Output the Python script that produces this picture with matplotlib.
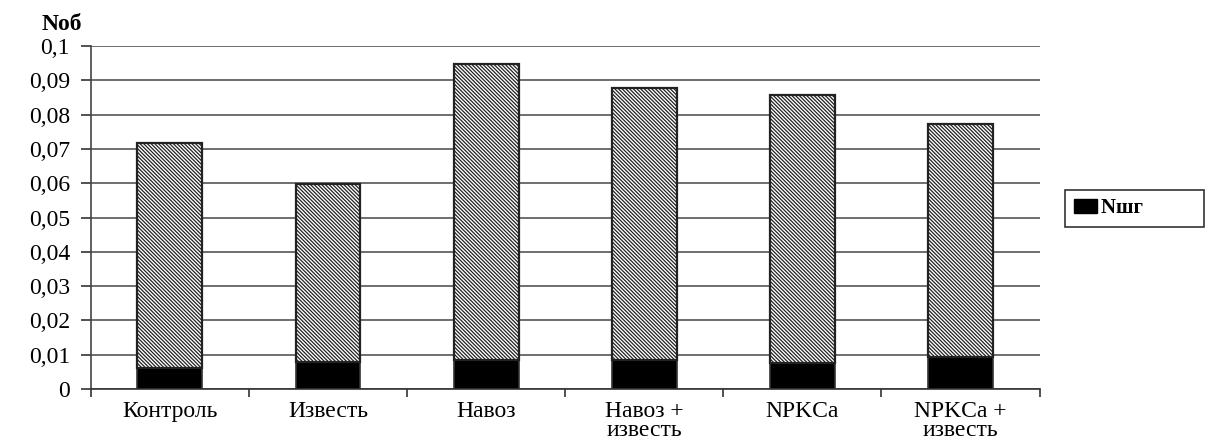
import numpy as np
import matplotlib.pyplot as plt
from matplotlib.patches import Patch

plt.rcParams['font.family'] = ['Liberation Serif', 'DejaVu Serif']
plt.rcParams['hatch.linewidth'] = 0.9

# Data
categories = ['Контроль', 'Известь', 'Навоз', 'Навоз +\nизвесть', 'NPKCa', 'NPKCa +\nизвесть']
n_total = [0.0717, 0.0597, 0.0948, 0.0878, 0.0857, 0.0772]   # Noб
n_shg = [0.0062, 0.0079, 0.0083, 0.0085, 0.0076, 0.0094]     # Nшг
yticks = [0, 0.01, 0.02, 0.03, 0.04, 0.05, 0.06, 0.07, 0.08, 0.09, 0.1]
ytick_labels = ['0', '0,01', '0,02', '0,03', '0,04', '0,05', '0,06', '0,07', '0,08', '0,09', '0,1']

rest = [t - s for t, s in zip(n_total, n_shg)]
x = np.arange(len(categories))

fig = plt.figure(figsize=(12.26, 4.43), dpi=100)
ax = fig.add_axes([0.074, 0.122, 0.774, 0.774])

ax.set_axisbelow(True)
ax.yaxis.grid(True, color='#555555', linewidth=1.2)
ax.bar(x, n_shg, width=0.41, color='black', edgecolor='#333333', linewidth=1.2, zorder=3)
ax.bar(x, rest, bottom=n_shg, width=0.41, color='white', edgecolor='#222222',
       hatch='\\' * 9, linewidth=1.6, zorder=3)

ax.set_xlim(-0.5, len(categories) - 0.5)
ax.set_ylim(0, 0.1)
ax.set_yticks(yticks)
ax.set_yticklabels(ytick_labels, fontsize=17)

# category labels centred, ticks on category boundaries
ax.set_xticks(x)
ax.set_xticklabels(categories, fontsize=17, linespacing=0.82)
ax.tick_params(axis='x', which='major', length=0, pad=9)
ax.set_xticks(np.arange(-0.5, len(categories)), minor=True)
ax.tick_params(axis='x', which='minor', length=6, width=1.2, color='#333333', direction='out')
ax.tick_params(axis='y', length=7, width=1.2, color='#333333', pad=8)

for s in ['top', 'right']:
    ax.spines[s].set_visible(False)
ax.spines['left'].set_color('#444444')
ax.spines['left'].set_linewidth(1.2)
ax.spines['bottom'].set_color('#333333')
ax.spines['bottom'].set_linewidth(1.2)

fig.text(0.034, 0.945, 'Noб', fontsize=17, fontweight='bold', ha='left', va='center')

leg = fig.legend(handles=[Patch(facecolor='black', edgecolor='black')], labels=['Nшг          '],
                 loc='center left', bbox_to_anchor=(0.869, 0.53), frameon=True, fancybox=False,
                 prop={'weight': 'bold', 'size': 15}, handlelength=1.1, handleheight=0.7,
                 handletextpad=0.2, borderpad=0.4, borderaxespad=0)
leg.get_frame().set_edgecolor('black')
leg.get_frame().set_linewidth(1.2)

fig.savefig('out.png', dpi=100)
